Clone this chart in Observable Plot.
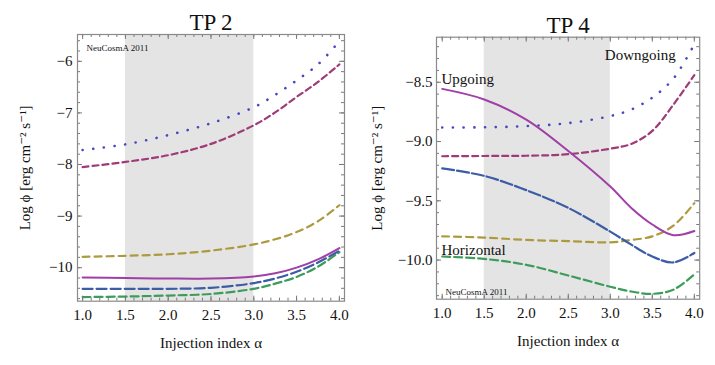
<!DOCTYPE html>
<html>
<head>
<meta charset="utf-8">
<script src="https://cdn.jsdelivr.net/npm/d3@7"></script>
<script src="https://cdn.jsdelivr.net/npm/@observablehq/plot@0.6"></script>
<style>
  body { margin: 0; background: white; }
  #wrap { display: flex; width: 715px; height: 365px; }
  #wrap > div { width: 357.5px; height: 365px; }
</style>
</head>
<body>
<div id="wrap"><div id="p1"></div><div id="p2"></div></div>
<script>
// ---- Data ----
const alpha = [1.0, 1.5, 2.0, 2.5, 3.0, 3.25, 3.5, 3.75, 4.0];
const shade = [1.5, 3.0];

// TP 2
const tp2DottedBlue  = [-7.72, -7.61, -7.43, -7.20, -6.89, -6.65, -6.37, -6.06, -5.61];
const tp2DashMagenta = [-8.05, -7.95, -7.82, -7.60, -7.24, -6.99, -6.69, -6.40, -6.06];
const tp2DashGold    = [-9.79, -9.77, -9.74, -9.67, -9.55, -9.45, -9.31, -9.10, -8.79];
const tp2SolidPurple = [-10.19, -10.20, -10.21, -10.21, -10.17, -10.11, -10.00, -9.84, -9.62];
const tp2DashBlue    = [-10.41, -10.41, -10.41, -10.39, -10.30, -10.21, -10.08, -9.90, -9.67];
const tp2DashGreen   = [-10.57, -10.56, -10.54, -10.51, -10.41, -10.31, -10.18, -9.98, -9.70];

// TP 4
const tp4DottedBlue  = [-8.882, -8.88, -8.87, -8.845, -8.785, -8.73, -8.63, -8.47, -8.18];
const tp4DashMagenta = [-9.124, -9.122, -9.12, -9.107, -9.06, -9.02, -8.91, -8.69, -8.44];
const tp4SolidPurple = [-8.556, -8.645, -8.815, -9.08, -9.38, -9.56, -9.70, -9.79, -9.755];
const tp4DashBlue    = [-9.227, -9.29, -9.41, -9.56, -9.76, -9.87, -9.97, -10.02, -9.94];
const tp4DashGold    = [-9.80, -9.81, -9.83, -9.84, -9.85, -9.83, -9.80, -9.71, -9.52];
const tp4DashGreen   = [-9.97, -9.99, -10.04, -10.13, -10.225, -10.265, -10.285, -10.25, -10.12];

// Tick labels
const xTicks = [1.0, 1.5, 2.0, 2.5, 3.0, 3.5, 4.0];
const tp2YTicks = [-10, -9, -8, -7, -6];
const tp4YTicks = [-10.0, -9.5, -9.0, -8.5];

// Styles
const styles = {
  dotted:  {stroke: "#4747bf", strokeWidth: 2.6, strokeDasharray: "0.1 10.6", strokeLinecap: "round"},
  dashMag: {stroke: "#9e3b78", strokeWidth: 2.2, strokeDasharray: "6 4"},
  gold:    {stroke: "#ad9a3e", strokeWidth: 2.2, strokeDasharray: "7 5"},
  solid:   {stroke: "#a03fa6", strokeWidth: 2.0},
  blue:    {stroke: "#3d5ca6", strokeWidth: 2.2, strokeDasharray: "10 4"},
  green:   {stroke: "#3c9c5a", strokeWidth: 2.2, strokeDasharray: "8 4"}
};

const FONT = "'Liberation Serif', 'DejaVu Serif', serif";

function linesFor(series) {
  return series.map(([vals, st]) =>
    Plot.line(alpha.map((a, i) => ({a, v: vals[i]})), {x: "a", y: "v", curve: "catmull-rom", ...st}));
}

function frameTicks(W, H, m, xMinor, xMajor, yMinor, yMajor) {
  const iw = W - m.left - m.right, ih = H - m.top - m.bottom;
  const c = "#7a7a7a";
  const majL = 5, minL = 3;
  return [
    Plot.tickX(xMinor, {x: d => d, insetTop: ih - minL, stroke: c}),
    Plot.tickX(xMinor, {x: d => d, insetBottom: ih - minL, stroke: c}),
    Plot.tickX(xMajor, {x: d => d, insetTop: ih - majL, stroke: c}),
    Plot.tickX(xMajor, {x: d => d, insetBottom: ih - majL, stroke: c}),
    Plot.tickY(yMinor, {y: d => d, insetRight: iw - minL, stroke: c}),
    Plot.tickY(yMinor, {y: d => d, insetLeft: iw - minL, stroke: c}),
    Plot.tickY(yMajor, {y: d => d, insetRight: iw - majL, stroke: c}),
    Plot.tickY(yMajor, {y: d => d, insetLeft: iw - majL, stroke: c}),
    Plot.frame({stroke: "#8a8a8a", strokeWidth: 1.2})
  ];
}

const W = 357.5, H = 365;
const xMinor = d3.range(10, 41).map(d => d / 10);
const txt = (s, o) => Plot.text([s], {lineAnchor: "middle", ...o});

// ---- Panel TP 2 ----
{
  const m = {top: 34, bottom: 64.3, left: 77, right: 13.5};
  const yMinor = d3.range(-53, -27).map(d => d / 5);
  const chart = Plot.plot({
    width: W, height: H,
    marginTop: m.top, marginBottom: m.bottom, marginLeft: m.left, marginRight: m.right,
    x: {domain: [0.94, 4.06]},
    y: {domain: [-10.65, -5.48]},
    style: {fontFamily: FONT, background: "white", color: "#111"},
    marks: [
      Plot.rect([shade], {x1: d => d[0], x2: d => d[1], fill: "#e4e4e4"}),
      ...linesFor([
        [tp2DottedBlue, styles.dotted],
        [tp2DashMagenta, styles.dashMag],
        [tp2DashGold, styles.gold],
        [tp2DashGreen, styles.green],
        [tp2DashBlue, styles.blue],
        [tp2SolidPurple, styles.solid]
      ]),
      ...frameTicks(W, H, m, xMinor, xTicks, yMinor, tp2YTicks),
      Plot.axisX(xTicks, {tickSize: 0, tickPadding: 8, fontSize: 15, label: null, tickFormat: d3.format(".1f")}),
      Plot.axisY(tp2YTicks, {tickSize: 0, tickPadding: 5, fontSize: 15, label: null, tickFormat: d3.format("d")}),
      txt("TP 2", {frameAnchor: "top", dy: -12, fontSize: 23}),
      txt("Injection index α", {frameAnchor: "bottom", dy: 42, fontSize: 15}),
      txt("Log ϕ [erg cm⁻² s⁻¹]", {frameAnchor: "left", dx: -52, rotate: -90, textAnchor: "middle", fontSize: 15}),
      txt("NeuCosmA 2011", {frameAnchor: "top-left", dx: 9, dy: 14, textAnchor: "start", fontSize: 9})
    ]
  });
  document.getElementById("p1").appendChild(chart);
}

// ---- Panel TP 4 ----
{
  const m = {top: 36.7, bottom: 66.3, left: 78, right: 16.3};
  const yMinor = d3.range(-103, -81).map(d => d / 10);
  const chart = Plot.plot({
    width: W, height: H,
    marginTop: m.top, marginBottom: m.bottom, marginLeft: m.left, marginRight: m.right,
    x: {domain: [0.932, 4.064]},
    y: {domain: [-10.33, -8.12]},
    style: {fontFamily: FONT, background: "white", color: "#111"},
    marks: [
      Plot.rect([shade], {x1: d => d[0], x2: d => d[1], fill: "#e4e4e4"}),
      ...linesFor([
        [tp4DottedBlue, styles.dotted],
        [tp4DashMagenta, styles.dashMag],
        [tp4DashGold, styles.gold],
        [tp4DashGreen, styles.green],
        [tp4DashBlue, {...styles.blue, strokeDasharray: "12 3"}],
        [tp4SolidPurple, styles.solid]
      ]),
      ...frameTicks(W, H, m, xMinor, xTicks, yMinor, tp4YTicks),
      Plot.axisX(xTicks, {tickSize: 0, tickPadding: 8, fontSize: 15, label: null, tickFormat: d3.format(".1f")}),
      Plot.axisY(tp4YTicks, {tickSize: 0, tickPadding: 4, fontSize: 15, label: null, tickFormat: d3.format(".1f")}),
      txt("TP 4", {frameAnchor: "top", dy: -12, fontSize: 23}),
      txt("Injection index α", {frameAnchor: "bottom", dy: 42, fontSize: 15}),
      txt("Log ϕ [erg cm⁻² s⁻¹]", {frameAnchor: "left", dx: -59, rotate: -90, textAnchor: "middle", fontSize: 15}),
      txt("Upgoing", {frameAnchor: "top-left", dx: 5, dy: 42, textAnchor: "start", fontSize: 15}),
      txt("Downgoing", {frameAnchor: "top-right", dx: -24, dy: 18, textAnchor: "end", fontSize: 15}),
      txt("Horizontal", {frameAnchor: "bottom-left", dx: 5, dy: -49, textAnchor: "start", fontSize: 15}),
      txt("NeuCosmA 2011", {frameAnchor: "bottom-left", dx: 9, dy: -7, textAnchor: "start", fontSize: 9})
    ]
  });
  document.getElementById("p2").appendChild(chart);
}
</script>
</body>
</html>
